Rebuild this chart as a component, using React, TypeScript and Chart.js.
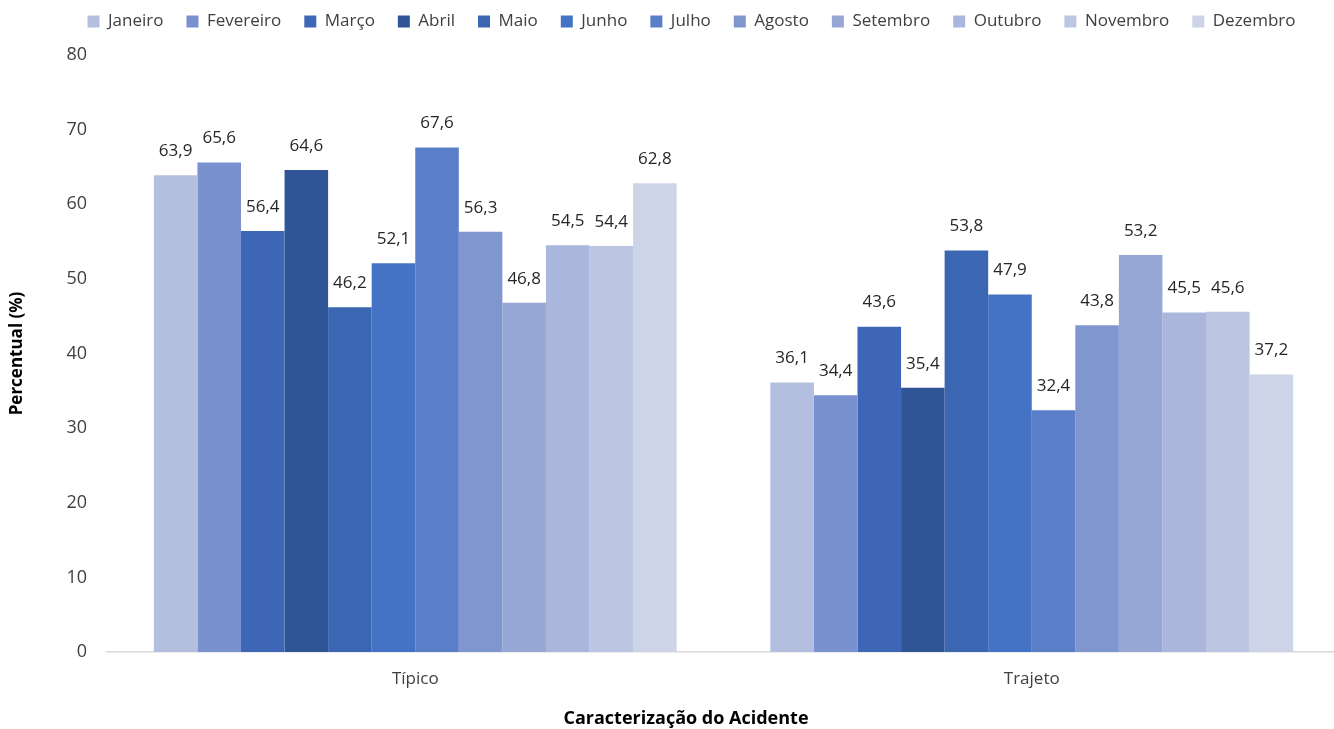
import React, { useEffect, useRef } from "react";
import { Chart, registerables } from "chart.js";

Chart.register(...registerables);

const categories = ["Típico", "Trajeto"];
const months = ["Janeiro", "Fevereiro", "Março", "Abril", "Maio", "Junho", "Julho", "Agosto", "Setembro", "Outubro", "Novembro", "Dezembro"];
const tipico = [63.9, 65.6, 56.4, 64.6, 46.2, 52.1, 67.6, 56.3, 46.8, 54.5, 54.4, 62.8];
const trajeto = [36.1, 34.4, 43.6, 35.4, 53.8, 47.9, 32.4, 43.8, 53.2, 45.5, 45.6, 37.2];
const colors = ["#B4BFE0", "#7A91D0", "#3E66B6", "#2F5597", "#3A66B2", "#4472C4", "#5B7EC8", "#7F96CE", "#96A7D6", "#ABB6DD", "#BCC5E2", "#CDD4E8"];
const xTitle = "Caracterização do Acidente";
const yTitle = "Percentual (%)";

const FONT = "'Open Sans', 'Liberation Sans', sans-serif";
const CANVAS_W = 1350;
const CANVAS_H = 729;

const valueLabels = {
  id: "valueLabels",
  afterDatasetsDraw(chart: any) {
    const ctx = chart.ctx;
    ctx.save();
    ctx.font = `17px ${FONT}`;
    ctx.fillStyle = "#262626";
    ctx.textAlign = "center";
    ctx.textBaseline = "middle";
    chart.data.datasets.forEach((ds: any, i: number) => {
      const meta = chart.getDatasetMeta(i);
      meta.data.forEach((bar: any, j: number) => {
        const v = ds.data[j];
        ctx.fillText(v.toFixed(1).replace(".", ","), bar.x, bar.y - 24);
      });
    });
    ctx.restore();
  },
};

const xTitlePlugin = {
  id: "xTitlePlugin",
  afterDraw(chart: any) {
    const ctx = chart.ctx;
    ctx.save();
    ctx.font = `bold 18px ${FONT}`;
    ctx.fillStyle = "#000000";
    ctx.textAlign = "center";
    ctx.textBaseline = "middle";
    ctx.fillText(xTitle, 686, 719);
    ctx.restore();
  },
};

const legendBox = {
  id: "legendBox",
  beforeInit(chart: any) {
    const legend = chart.legend;
    const origFit = legend.fit;
    legend.fit = function () {
      origFit.call(this);
      this.height = 55;
    };
  },
  afterLayout(chart: any) {
    const legend = chart.legend;
    legend.left += 18;
    legend.right += 18;
    legend.top -= 10;
    legend.bottom -= 10;
  },
};

export default function App() {
  const ref = useRef<HTMLCanvasElement>(null);
  useEffect(() => {
    const datasets = months.map((m, i) => ({
      label: m,
      data: [tipico[i], trajeto[i]],
      backgroundColor: colors[i],
      borderWidth: 0,
      barPercentage: 1,
      categoryPercentage: 0.848,
    }));
    const chart = new Chart(ref.current!, {
      type: "bar",
      data: { labels: categories, datasets },
      plugins: [valueLabels, legendBox, xTitlePlugin],
      options: {
        animation: false,
        responsive: false,
        maintainAspectRatio: false,
        layout: { padding: { left: 7, right: 10, top: 0, bottom: 0 } },
        plugins: {
          legend: {
            position: "top",
            labels: {
              boxWidth: 12,
              boxHeight: 12,
              font: { family: FONT, size: 17 },
              color: "#404040",
              padding: 23,
            },
          },
          tooltip: { enabled: false },
        },
        scales: {
          x: {
            grid: { display: false, drawTicks: false },
            border: { display: true, color: "#D9D9D9", width: 1.5 },
            ticks: { font: { family: FONT, size: 17 }, color: "#404040", padding: 17 },
            title: { display: false },
            afterFit: (s: any) => { s.height = 77; },
          },
          y: {
            min: 0,
            max: 80,
            ticks: { stepSize: 10, font: { family: FONT, size: 18 }, color: "#404040", padding: 20 },
            grid: { display: false, drawTicks: false },
            border: { display: false },
            title: {
              display: true,
              text: yTitle,
              font: { family: FONT, size: 17, weight: "bold" },
              color: "#000000",
              padding: { top: 0, bottom: 0 },
            },
            afterFit: (s: any) => { s.width = 100; },
          },
        },
      },
    });
    return () => chart.destroy();
  }, []);
  return (
    <div style={{ position: "fixed", left: 0, top: 0, width: 1334, height: 729, overflow: "hidden", background: "#fff" }}>
      <canvas ref={ref} width={CANVAS_W} height={CANVAS_H} style={{ width: CANVAS_W, height: CANVAS_H, display: "block" }} />
    </div>
  );
}
